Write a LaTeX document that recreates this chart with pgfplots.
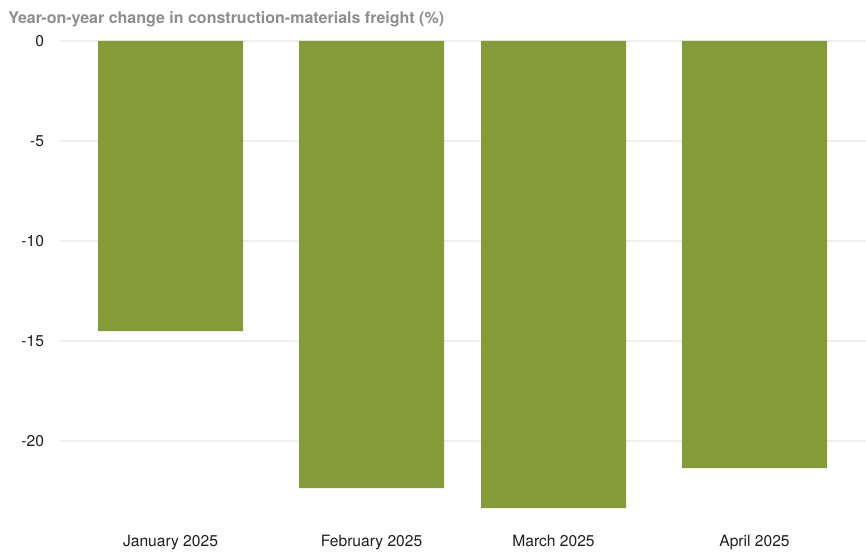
\documentclass[border=0pt]{standalone}
\usepackage{fontspec}
\setmainfont{TeX Gyre Heros}
\usepackage{pgfplots}
\pgfplotsset{compat=1.18}
\definecolor{barolive}{HTML}{849B37}
\definecolor{titlegray}{HTML}{8E8E8E}
\definecolor{gridgray}{HTML}{EFEFEF}
\definecolor{ticktext}{HTML}{1E1E1E}

\begin{document}
\begin{tikzpicture}[x=0.5pt]
	% page frame: 866 x 552 px, 1 px = 0.5pt
	\path[use as bounding box] (-60*0.5pt,-31*0.5pt) rectangle (806*0.5pt,521*0.5pt);
	\begin{axis}[
	at={(0,0)}, anchor=south west,
	x=0.5pt, y=10pt,
	xmin=60, xmax=866,
	ymin=-24, ymax=0,
	axis line style={draw=none},
	major tick length=0pt,
	ytick={-20,-15,-10,-5,0},
	yticklabels={-20,-15,-10,-5,0},
	ymajorgrids=true,
	grid style={gridgray, line width=0.6pt},
	xtick={170.5,371.5,553.5,754.5},
	xticklabels={January 2025,February 2025,March 2025,April 2025},
	tick label style={font=\fontsize{7.8}{9}\selectfont, text=ticktext},
	yticklabel style={anchor=east, xshift=-4.5pt},
	xticklabel style={anchor=base, yshift=-12.5pt},
	ybar, bar width=145, bar shift=0pt,
	clip=false,
	]
	\addplot[fill=barolive, draw=none]
	coordinates {(170.5,-14.5) (371.5,-22.35) (553.5,-23.35) (754.5,-21.35)};

	\node[anchor=base west, font=\bfseries\fontsize{8}{9}\selectfont, text=titlegray, inner sep=0pt]
		at (axis cs:8,0) [yshift=8.5pt] {Year-on-year change in construction-materials freight (\%)};
	\end{axis}
\end{tikzpicture}
\end{document}
